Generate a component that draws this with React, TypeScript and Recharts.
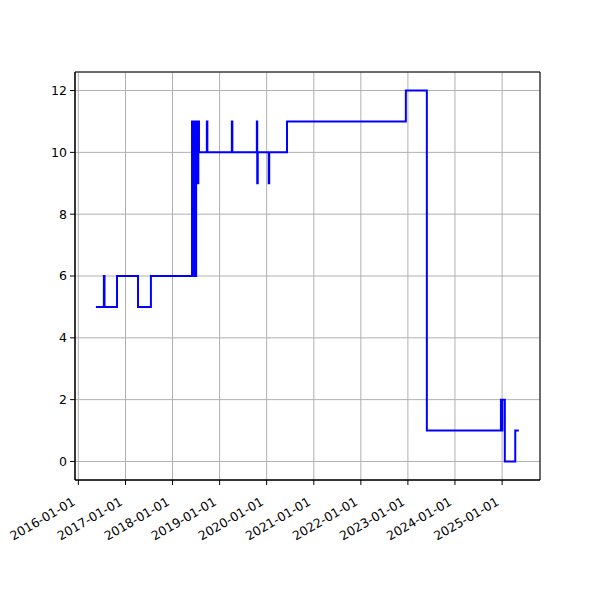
import { LineChart, Line, XAxis, YAxis, CartesianGrid, ReferenceArea } from 'recharts';

// step series: each value holds from its date until the next date
const dates = [
  '2016-05-16', '2016-07-17', '2016-07-22', '2016-10-27', '2017-04-08', '2017-07-17',
  '2018-06-01', '2018-06-05', '2018-06-09', '2018-06-13', '2018-06-17', '2018-06-21',
  '2018-06-25', '2018-06-29', '2018-07-03', '2018-07-08', '2018-07-12', '2018-07-16',
  '2018-07-20', '2018-07-25',
  '2018-09-24', '2018-09-28',
  '2019-04-06', '2019-04-10',
  '2019-10-17', '2019-10-20', '2019-10-24',
  '2020-01-17', '2020-01-21',
  '2020-06-07',
  '2022-12-16',
  '2023-05-28',
  '2024-12-23', '2024-12-30', '2025-01-03', '2025-01-22',
  '2025-04-13', '2025-05-11',
];
const values = [
  5, 6, 5, 6, 5, 6,
  11, 6, 11, 6, 11, 6,
  11, 6, 11, 9, 11, 9,
  11, 10,
  11, 10,
  11, 10,
  11, 9, 10,
  9, 10,
  11,
  12,
  1,
  2, 1, 2, 0,
  1, 1,
];

const yearTicks = [
  '2016-01-01', '2017-01-01', '2018-01-01', '2019-01-01', '2020-01-01',
  '2021-01-01', '2022-01-01', '2023-01-01', '2024-01-01', '2025-01-01',
];
const yTicks = [0, 2, 4, 6, 8, 10, 12];

const toMs = (s: string) => Date.parse(s + 'T00:00:00Z');
const data = dates.map((d, i) => ({ t: toMs(d), v: values[i] }));

const X_MIN = toMs('2015-12-06');
const X_MAX = toMs('2025-10-22');
const Y_MIN = -0.6;
const Y_MAX = 12.6;

const FONT = 'DejaVu Sans';

function fmtDate(ms: number) {
  return new Date(ms).toISOString().slice(0, 10);
}

// rotated like matplotlib's autofmt_xdate: right edge of the box under the tick
function DateTick(props: any) {
  const { x, y, payload } = props;
  const px = x - 7;
  const py = y + 9;
  return (
    <text
      x={px}
      y={py}
      transform={`rotate(-30, ${px}, ${py})`}
      textAnchor="end"
      dominantBaseline="hanging"
      fontFamily={FONT}
      fontSize={12.5}
      fill="#000"
    >
      {fmtDate(payload.value)}
    </text>
  );
}

export default function App() {
  return (
    <div style={{ position: 'fixed', left: 0, top: 0, width: 600, height: 600, background: '#fff' }}>
      <LineChart
        width={600}
        height={600}
        data={data}
        margin={{ top: 72, right: 60, bottom: 50, left: 30 }}
      >
        <CartesianGrid stroke="#b0b0b0" strokeWidth={1} />
        <XAxis
          dataKey="t"
          type="number"
          domain={[X_MIN, X_MAX]}
          ticks={yearTicks.map(toMs)}
          allowDataOverflow
          height={70}
          tick={<DateTick />}
          tickSize={5}
          tickLine={{ stroke: '#000' }}
          axisLine={{ stroke: '#000' }}
          interval={0}
        />
        <YAxis
          type="number"
          domain={[Y_MIN, Y_MAX]}
          ticks={yTicks}
          allowDataOverflow
          width={45}
          tickSize={5}
          tickMargin={3}
          tickLine={{ stroke: '#000' }}
          axisLine={{ stroke: '#000' }}
          tick={{ fontFamily: FONT, fontSize: 12.5, fill: '#000' }}
          interval={0}
        />
        <Line
          type="stepAfter"
          dataKey="v"
          stroke="#0000ff"
          strokeWidth={2}
          dot={false}
          activeDot={false}
          isAnimationActive={false}
        />
        <ReferenceArea
          x1={X_MIN}
          x2={X_MAX}
          y1={Y_MIN}
          y2={Y_MAX}
          fill="none"
          stroke="#000"
          strokeWidth={1}
          ifOverflow="visible"
        />
      </LineChart>
    </div>
  );
}
